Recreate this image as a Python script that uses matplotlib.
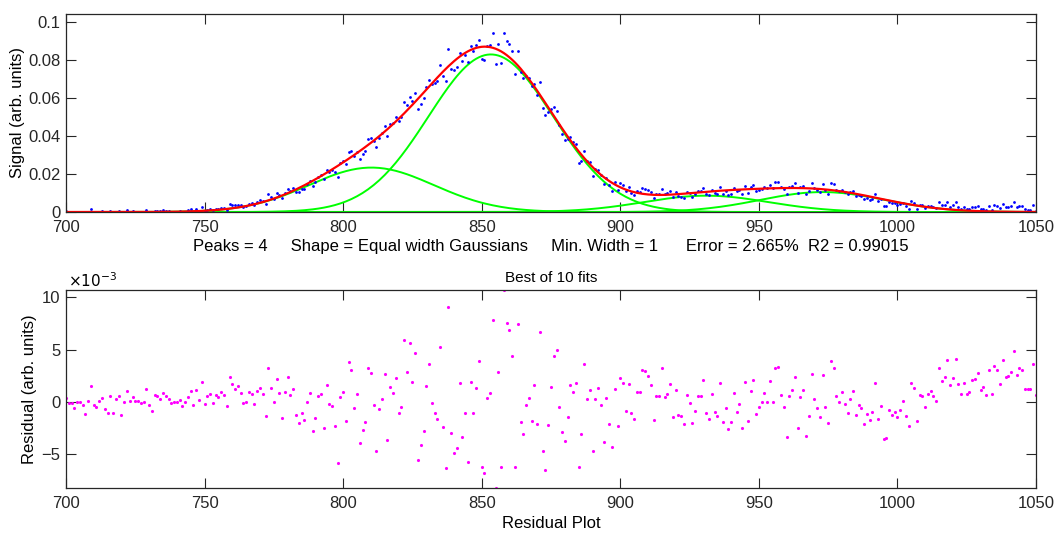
import numpy as np
import matplotlib
matplotlib.use("Agg")
import matplotlib.pyplot as plt

plt.rcParams['font.family'] = ['Liberation Sans', 'DejaVu Sans']

# wavelength axis (1 nm spacing)
x_start, x_stop = 700, 1050

# fitted peak parameters (equal-width Gaussians)
peak_pos = [810.2, 853.3, 931.0, 973.0]
peak_height = [0.0234, 0.0830, 0.0086, 0.0105]
peak_sigma = 22.5

# residuals (x1e-3), one per nm from 700 to 1050
residual = [
 0.35, -0.06, -0.13, -0.6, 0.03, 0.03, -0.25, -1.1, 0.1, 1.56,
 -0.25, -0.44, 0.13, 0.35, -0.7, -1.0, 0.54, -1.08, 0.25, 0.6,
 -1.24, 0.03, 1.08, 0.06, 0.44, 0.06, 0.13, -0.1, 0.0, 1.24,
 -0.29, -0.89, 0.67, 0.57, 0.32, 0.89, 0.57, 0.25, -0.1, -0.03,
 -0.03, 0.22, -0.38, -0.03, 0.51, 1.02, -0.32, 1.2, 0.19, 1.94,
 -0.16, 0.57, 0.73, -0.1, 0.67, 0.44, 0.92, 0.67, -0.38, 2.35,
 1.68, 1.27, 1.52, 0.89, -0.06, 0.0, 0.92, 0.73, -0.19, 1.08,
 1.3, 0.73, -1.37, 3.27, 1.33, 0.03, 2.19, 0.89, -1.52, 0.92,
 2.35, 0.63, 1.27, -1.21, -1.97, -1.02, -1.75, 0.0, 0.89, -2.79,
 -1.52, 0.6, 0.79, -2.51, 1.62, -0.22, -0.38, -2.25, -5.78, 0.51,
 0.98, -1.84, 3.78, 3.05, -0.54, 0.76, -3.94, -2.67, -1.9, 3.21,
 2.73, -0.32, -4.63, -0.67, 0.25, 2.7, -3.62, 1.46, 0.83, 2.32,
 -1.08, -0.48, 5.9, 2.89, 5.62, 1.94, 4.7, -5.52, -4.13, -2.73,
 1.52, 3.62, -0.13, -1.05, -1.59, 5.3, -2.41, -6.29, 9.05, -2.98,
 -4.86, -4.35, 1.78, -3.33, -1.02, -5.75, 1.9, -1.02, 1.37, 3.94,
 -6.19, -6.79, 0.38, 0.89, 7.81, -8.2, 2.92, -6.19, 10.7, 7.59,
 6.92, 4.38, -6.16, 7.49, -1.87, -3.02, -0.29, 0.35, -1.78, 1.62,
 -2.13, 6.73, -4.67, -6.51, -2.22, 1.4, 4.44, 4.95, -0.44, -2.86,
 -3.75, -1.46, 1.65, 0.98, 1.81, -6.22, -3.02, 3.65, 0.29, 1.14,
 -4.7, 0.25, 1.33, -0.32, -3.84, 0.38, -2.06, -4.32, 1.21, -2.32,
 2.29, 1.84, -0.83, 1.68, -1.05, -1.59, 0.92, 0.92, 3.05, 2.98,
 2.51, 1.59, -1.68, 0.57, 0.57, 3.21, 0.51, 0.73, 1.71, -1.46,
 1.17, -1.24, -1.37, -2.1, 0.7, -0.06, -2.0, -0.89, 0.54, 0.54,
 2.13, -1.05, -1.65, 0.76, -0.92, -1.37, 1.84, -1.87, -0.57, -2.54,
 -1.87, 0.83, -0.92, -0.22, -2.48, 1.94, -1.78, 1.08, 2.1, -1.11,
 -0.44, 0.0, 0.89, 0.0, 1.97, 0.0, 3.24, 3.37, 0.67, -0.44,
 -3.37, 0.6, 1.11, 2.44, -2.51, 0.44, 1.11, -3.27, -1.33, 2.7,
 0.29, -0.6, -1.46, 2.6, -0.44, -2.0, 3.9, 3.27, 0.6, 0.0,
 0.98, -0.16, -1.08, 0.25, 1.02, -1.27, -0.32, -0.57, -2.13, -1.14,
 -1.75, -0.92, 1.81, -1.65, -0.35, -3.56, -3.4, -0.76, -1.24, -0.95,
 -1.43, -0.73, 0.06, -1.37, -2.32, 1.87, 1.33, -1.78, 0.7, 0.54,
 -0.51, 0.76, 1.05, 0.6, 0.06, 3.21, 2.06, 2.35, 4.06, 1.59,
 2.29, 4.1, 1.75, 0.79, 1.84, 0.73, 0.92, 2.1, 2.25, 2.79,
 1.17, 1.43, 0.7, 3.11, 0.73, 3.49, 3.02, 1.75, 4.03, 2.38,
 2.48, 2.86, 4.92, 2.6, 3.21, 3.05, 1.27, 1.24, 1.21, 3.65,
 0.63,
]

x = np.arange(x_start, x_stop + 1)
res = np.array(residual)
components = [h * np.exp(-(x - p) ** 2 / (2 * peak_sigma ** 2))
              for p, h in zip(peak_pos, peak_height)]
fit = np.sum(components, axis=0)
signal = fit + res * 1e-3

W, H = 1057, 535
fig = plt.figure(figsize=(W / 100, H / 100), dpi=100)

ax1 = fig.add_axes([66 / W, 1 - 212 / H, 970 / W, 198 / H])
ax2 = fig.add_axes([66 / W, 1 - 488 / H, 970 / W, 198 / H])

fs = 12
for c in components:
    ax1.plot(x, c, color='#00ff00', lw=1.4)
ax1.plot(x, signal, '.', color='#0000ff', ms=4, mew=0)
ax1.plot(x, fit, color='#ff0000', lw=1.6)
ax1.set_xlim(700, 1050)
ax1.set_ylim(0, 0.1043)
ax1.set_xticks(np.arange(700, 1051, 50))
ax1.set_yticks([0, 0.02, 0.04, 0.06, 0.08, 0.1])
ax1.set_yticklabels(['0', '0.02', '0.04', '0.06', '0.08', '0.1'])
ax1.set_ylabel('Signal (arb. units)', fontsize=fs)
ax1.yaxis.set_label_coords(-0.042, 0.5)
ax1.set_xlabel('Peaks = 4     Shape = Equal width Gaussians     Min. Width = 1      Error = 2.665%  R2 = 0.99015',
               fontsize=fs, labelpad=3)

ax2.plot(x, res, '.', color='#ff00ff', ms=4.5, mew=0)
ax2.set_xlim(700, 1050)
ax2.set_ylim(-8.2, 10.7)
ax2.set_xticks(np.arange(700, 1051, 50))
ax2.set_yticks([-5, 0, 5, 10])
ax2.set_xlabel('Residual Plot', fontsize=fs, labelpad=3)
ax2.set_ylabel('Residual (arb. units)', fontsize=fs)
ax2.yaxis.set_label_coords(-0.030, 0.5)
ax2.set_title('Best of 10 fits', fontsize=fs - 1, pad=6)
ax2.text(0.002, 1.0, r'$\times10^{-3}$', transform=ax2.transAxes, fontsize=fs - 1,
         ha='left', va='bottom')

for ax in (ax1, ax2):
    ax.tick_params(direction='in', length=7, width=0.8, top=True, right=True,
                   labelsize=fs, colors='#262626')
    ax.tick_params(axis='x', pad=6)
    ax.tick_params(axis='y', pad=4)
    for s in ax.spines.values():
        s.set_color('#262626')
        s.set_linewidth(0.9)

fig.savefig('out.png', dpi=100)
